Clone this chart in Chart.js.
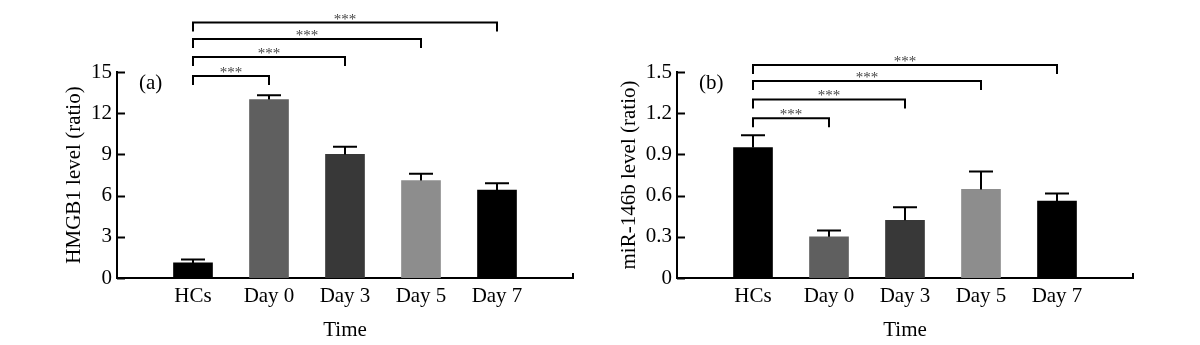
<!DOCTYPE html>
<html>
<head>
<meta charset="utf-8">
<script src="https://cdn.jsdelivr.net/npm/chart.js@4/dist/chart.umd.min.js"></script>
<style>
  body { margin: 0; background: #fff; }
  #wrap { position: relative; width: 1200px; height: 345px; }
  canvas { position: absolute; top: 0; }
</style>
</head>
<body>
<div id="wrap">
  <canvas id="chartA" width="600" height="345" style="left:0"></canvas>
  <canvas id="chartB" width="600" height="345" style="left:600px"></canvas>
</div>
<script>
// categories shared by both panels
const groups = ['HCs', 'Day 0', 'Day 3', 'Day 5', 'Day 7'];
const barColors = ['#000000', '#5f5f5f', '#383838', '#8d8d8d', '#000000'];

// panel (a): HMGB1
const hmgb1 = [1.1, 13.0, 9.0, 7.1, 6.4];
const hmgb1Err = [0.25, 0.3, 0.55, 0.5, 0.5];
const hmgb1Ticks = [0, 3, 6, 9, 12, 15];
const hmgb1Brackets = [14.7, 16.1, 17.4, 18.6]; // HCs vs Day 0 / 3 / 5 / 7

// panel (b): miR-146b
const mir = [0.95, 0.30, 0.42, 0.645, 0.56];
const mirErr = [0.09, 0.045, 0.095, 0.13, 0.055];
const mirTicks = [0, 0.3, 0.6, 0.9, 1.2, 1.5];
const mirBrackets = [1.163, 1.30, 1.435, 1.551];

const serif = '"Liberation Serif", "Times New Roman", serif';

// padded so the bars sit one slot in from each end of the axis
const labels = ['', ...groups, ''];
const pad = arr => [null, ...arr, null];

const extras = {
    id: 'extras',
    afterDatasetsDraw(chart, args, opts) {
        const ctx = chart.ctx;
        const y = chart.scales.y;
        const meta = chart.getDatasetMeta(0);
        ctx.save();
        ctx.strokeStyle = '#000';
        ctx.lineWidth = 2;
        // error bars (upper only)
        opts.values.forEach((v, i) => {
            const bar = meta.data[i + 1];
            const top = y.getPixelForValue(v + opts.errors[i]);
            ctx.beginPath();
            ctx.moveTo(bar.x, y.getPixelForValue(v));
            ctx.lineTo(bar.x, top);
            ctx.moveTo(bar.x - 12, top);
            ctx.lineTo(bar.x + 12, top);
            ctx.stroke();
        });
        ctx.restore();
    },
    afterDraw(chart, args, opts) {
        const ctx = chart.ctx;
        const area = chart.chartArea;
        const y = chart.scales.y;
        const meta = chart.getDatasetMeta(0);
        ctx.save();
        ctx.strokeStyle = '#000';
        ctx.lineWidth = 2;
        // inward y ticks
        y.ticks.forEach(t => {
            const py = Math.round(y.getPixelForValue(t.value)) + 0.5;
            ctx.beginPath();
            ctx.moveTo(area.left, py);
            ctx.lineTo(area.left + 8, py);
            ctx.stroke();
        });
        // little hook at the end of the x axis
        ctx.beginPath();
        ctx.moveTo(area.right, area.bottom);
        ctx.lineTo(area.right, area.bottom - 5);
        ctx.stroke();

        // significance brackets
        const x0 = meta.data[1].x;
        opts.brackets.forEach((lvl, i) => {
            const x1 = meta.data[i + 2].x;
            const py = y.getPixelForValue(lvl);
            ctx.strokeStyle = '#000';
            ctx.beginPath();
            ctx.moveTo(x0, py + 9);
            ctx.lineTo(x0, py);
            ctx.lineTo(x1, py);
            ctx.lineTo(x1, py + 9);
            ctx.stroke();
            ctx.fillStyle = '#444';
            ctx.font = '15px ' + serif;
            ctx.textAlign = 'center';
            ctx.textBaseline = 'alphabetic';
            ctx.fillText('***', (x0 + x1) / 2, py + 1);
        });

        // panel letter
        ctx.fillStyle = '#000';
        ctx.font = '21px ' + serif;
        ctx.textAlign = 'left';
        ctx.textBaseline = 'middle';
        ctx.fillText(opts.letter, area.left + 22, area.top + 11);
        ctx.restore();
    }
};

function makePanel(id, values, errors, ticks, brackets, letter, yTitle, padLeft, yWidth, padRight) {
    const step = ticks[1] - ticks[0];
    return new Chart(document.getElementById(id), {
        type: 'bar',
        data: {
            labels: labels,
            datasets: [{
                data: pad(values),
                backgroundColor: pad(barColors),
                barThickness: 39,
                borderWidth: 0
            }]
        },
        plugins: [extras],
        options: {
            responsive: false,
            animation: false,
            devicePixelRatio: 1,
            layout: { padding: { left: padLeft, right: padRight, top: 72, bottom: 0 } },
            plugins: {
                legend: { display: false },
                tooltip: { enabled: false },
                extras: { values: values, errors: errors, brackets: brackets, letter: letter }
            },
            scales: {
                x: {
                    offset: false,
                    z: 1,
                    grid: { display: false, drawTicks: false },
                    border: { display: true, color: '#000', width: 2 },
                    ticks: { color: '#000', font: { family: serif, size: 21 }, padding: 6, maxRotation: 0, autoSkip: false },
                    title: { display: true, text: 'Time', color: '#000', font: { family: serif, size: 21 }, padding: { top: 0, bottom: 2 } },
                    afterFit: s => { s.height = 67; }
                },
                y: {
                    min: ticks[0],
                    max: ticks[ticks.length - 1],
                    afterBuildTicks: s => { s.ticks = ticks.map(v => ({ value: v })); },
                    grid: { display: false, drawTicks: false },
                    border: { display: true, color: '#000', width: 2 },
                    ticks: {
                        color: '#000',
                        font: { family: serif, size: 21 },
                        padding: 5,
                        callback: v => (step < 1 ? (v === 0 ? '0' : v.toFixed(1)) : String(v))
                    },
                    title: { display: true, text: yTitle, color: '#000', font: { family: serif, size: 21 }, padding: { top: 0, bottom: 0 } },
                    afterFit: s => { s.width = yWidth; }
                }
            }
        }
    });
}

makePanel('chartA', hmgb1, hmgb1Err, hmgb1Ticks, hmgb1Brackets, '(a)', 'HMGB1 level (ratio)', 62, 55, 27);
makePanel('chartB', mir, mirErr, mirTicks, mirBrackets, '(b)', 'miR-146b level (ratio)', 17, 60, 67);
</script>
</body>
</html>
